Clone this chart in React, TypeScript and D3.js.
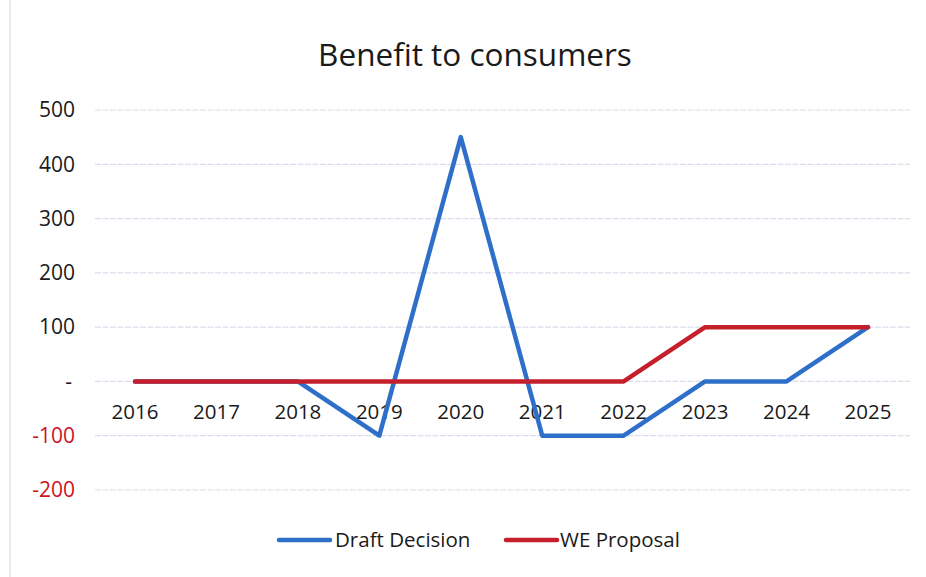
import React from "react";
import * as d3 from "d3";

const years = ["2016", "2017", "2018", "2019", "2020", "2021", "2022", "2023", "2024", "2025"];
const draftDecision = [0, 0, 0, -100, 450, -100, -100, 0, 0, 100];
const weProposal = [0, 0, 0, 0, 0, 0, 0, 100, 100, 100];
const yTicks = [500, 400, 300, 200, 100, 0, -100, -200];

const W = 926;
const H = 577;
const FONT = "'Open Sans', 'Liberation Sans', sans-serif";

export default function App() {
  const x = d3.scalePoint<string>().domain(years).range([135, 868]);
  const y = d3.scaleLinear().domain([-200, 500]).range([490, 110]);
  const line = d3
    .line<number>()
    .x((_, i) => x(years[i]) as number)
    .y((d) => y(d));

  const blue = "#2e6fc9";
  const red = "#c61f2c";

  return (
    <svg width={W} height={H} style={{ position: "absolute", left: 0, top: 0 }}>
      <rect x={0} y={0} width={W} height={H} fill="#fff" />
      <line x1={10} x2={10} y1={0} y2={H} stroke="#e2e4ec" strokeWidth={1.5} />
      <text x={475} y={66} textAnchor="middle" fontFamily={FONT} fontSize={31.5} fill="#1a1a1a">
        Benefit to consumers
      </text>
      {yTicks.map((t) => (
        <g key={t}>
          <line x1={95} x2={910} y1={y(t)} y2={y(t)} stroke="#dadeea" strokeWidth={1.2} strokeDasharray="6,1.5" />
          <text
            x={t === 0 ? 72 : 75}
            y={y(t)}
            dy="0.35em"
            textAnchor="end"
            fontFamily={FONT}
            fontSize={21}
            fill={t < 0 ? "#d0121e" : "#1a1a1a"}
          >
            {t === 0 ? "-" : t}
          </text>
        </g>
      ))}
      {years.map((yr) => (
        <text key={yr} x={x(yr) as number} y={419} textAnchor="middle" fontFamily={FONT} fontSize={20.5} fill="#1a1a1a">
          {yr}
        </text>
      ))}
      <path d={line(draftDecision) ?? ""} fill="none" stroke={blue} strokeWidth={4.5} strokeLinejoin="round" strokeLinecap="round" />
      <path d={line(weProposal) ?? ""} fill="none" stroke={red} strokeWidth={4.5} strokeLinejoin="round" strokeLinecap="round" />
      <g>
        <line x1={279} x2={330} y1={540} y2={540} stroke={blue} strokeWidth={4.5} strokeLinecap="round" />
        <text x={335} y={540} dy="0.35em" fontFamily={FONT} fontSize={20.5} fill="#1a1a1a">
          Draft Decision
        </text>
        <line x1={506} x2={557} y1={540} y2={540} stroke={red} strokeWidth={4.5} strokeLinecap="round" />
        <text x={560} y={540} dy="0.35em" fontFamily={FONT} fontSize={20.5} fill="#1a1a1a">
          WE Proposal
        </text>
      </g>
    </svg>
  );
}
